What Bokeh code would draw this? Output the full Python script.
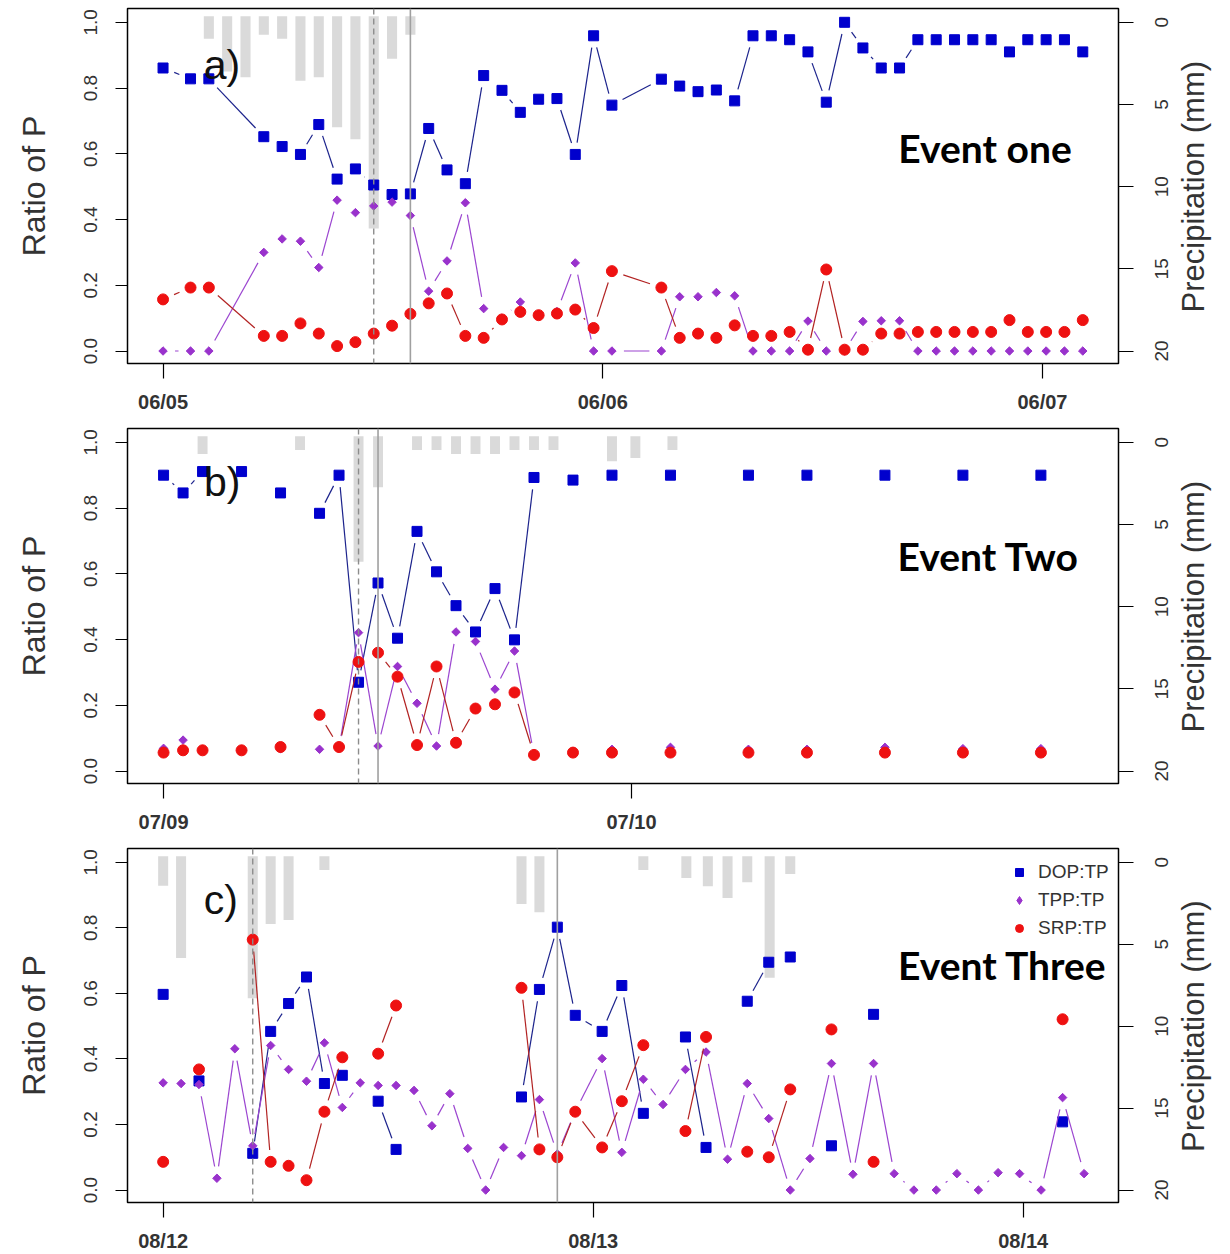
import math
import numpy as np
from bokeh.plotting import figure
from bokeh.models import (Range1d, LinearAxis, FixedTicker, Span, Label, Legend,
                          LegendItem, PrintfTickFormatter)
from bokeh.layouts import column, row
from bokeh.embed import file_html
from bokeh.resources import INLINE

nan = np.nan

# ---------------- Event one (06/05 - 06/07) ----------------
a_hours = [0, 1.5, 2.5, 5.5, 6.5, 7.5, 8.5, 9.5, 10.5, 11.5, 12.5, 13.5, 14.5, 15.5,
           16.5, 17.5, 18.5, 19.5, 20.5, 21.5, 22.5, 23.5, 24.5, 27.2, 28.2, 29.2,
           30.2, 31.2, 32.2, 33.2, 34.2, 35.2, 36.2, 37.2, 38.2, 39.2, 40.2, 41.2,
           42.2, 43.2, 44.2, 45.2, 46.2, 47.2, 48.2, 49.2, 50.2]
a_dop = [0.861, 0.828, 0.828, 0.652, 0.622, 0.598, 0.689, 0.523, 0.554, 0.505, 0.476,
         0.478, 0.677, 0.551, 0.509, 0.838, 0.793, 0.726, 0.766, 0.768, 0.598, 0.959,
         0.748, 0.827, 0.806, 0.789, 0.794, 0.761, 0.959, 0.959, 0.947, 0.910, 0.757,
         1.0, 0.922, 0.861, 0.861, 0.947, 0.947, 0.947, 0.947, 0.947, 0.910, 0.947,
         0.947, 0.947, 0.910]
a_tpp = [0, 0, 0, 0.300, 0.341, 0.334, 0.254, 0.459, 0.421, 0.441, 0.453, 0.412, 0.182,
         0.274, 0.451, 0.129, 0.100, 0.149, 0.110, 0.120, 0.268, 0, 0, 0, 0.165, 0.165,
         0.178, 0.168, 0, 0, 0, 0.091, 0, 0, 0.090, 0.092, 0.092, 0, 0, 0, 0, 0, 0, 0,
         0, 0, 0]
a_srp = [0.157, 0.193, 0.193, 0.046, 0.046, 0.084, 0.053, 0.015, 0.027, 0.053, 0.077,
         0.113, 0.145, 0.175, 0.046, 0.040, 0.096, 0.119, 0.109, 0.114, 0.126, 0.070,
         0.243, 0.193, 0.040, 0.053, 0.040, 0.078, 0.046, 0.046, 0.058, 0.004, 0.248,
         0.004, 0.004, 0.053, 0.053, 0.058, 0.058, 0.058, 0.058, 0.058, 0.094, 0.058,
         0.058, 0.058, 0.094]
a_rain_hours = [2.5, 3.5, 4.5, 5.5, 6.5, 7.5, 8.5, 9.5, 10.5, 11.5, 12.5, 13.5]
a_rain = [1.0, 3.0, 3.34, 0.75, 1.0, 3.56, 3.34, 6.39, 7.12, 12.54, 2.22, 0.75]
a_day_ticks = [0, 24, 48]
a_day_labels = ["06/05", "06/06", "06/07"]
a_lines = [11.5, 13.5]          # dashed, solid

# ---------------- Event two (07/09 - 07/10) ----------------
b_hours = [0, 1, 2, 3, 4, 5, 6, 7, 8, 9, 10, 11, 12, 13, 14, 15, 16, 17, 18, 19, 20,
           21, 22, 23, 24.5, 26, 28, 30, 31.5, 33, 35, 37, 39, 41, 43, 45]
b_dop = [0.900, 0.846, 0.911, nan, 0.911, nan, 0.846, nan, 0.784, 0.900, 0.270, 0.572,
         0.404, 0.729, 0.606, 0.503, 0.423, 0.555, 0.399, 0.893, nan, 0.885, nan, 0.900,
         nan, 0.900, nan, 0.900, nan, 0.900, nan, 0.900, nan, 0.900, nan, 0.900]
b_tpp = [0.069, 0.094, 0.065, nan, 0.065, nan, 0.068, nan, 0.066, 0.070, 0.421, 0.076,
         0.318, 0.206, 0.076, 0.423, 0.394, 0.249, 0.365, 0.050, nan, 0.060, nan, 0.066,
         nan, 0.072, nan, 0.066, nan, 0.066, nan, 0.072, nan, 0.068, nan, 0.068]
b_srp = [0.056, 0.063, 0.063, nan, 0.063, nan, 0.073, nan, 0.171, 0.073, 0.332, 0.360,
         0.287, 0.079, 0.318, 0.086, 0.190, 0.203, 0.239, 0.049, nan, 0.056, nan, 0.056,
         nan, 0.056, nan, 0.056, nan, 0.056, nan, 0.056, nan, 0.056, nan, 0.056]
b_rain_hours = [2, 7, 10, 11, 13, 14, 15, 16, 17, 18, 19, 20, 23, 24.2, 26.1]
b_rain = [0.71, 0.47, 7.27, 2.74, 0.47, 0.47, 0.71, 0.71, 0.71, 0.47, 0.47, 0.47, 1.16,
          0.96, 0.47]
b_day_ticks = [0, 24]
b_day_labels = ["07/09", "07/10"]
b_lines = [10, 11]

# ---------------- Event three (08/12 - 08/14) ----------------
c_hours = [0, 1, 2, 3, 4, 5, 6, 7, 8, 9, 10, 11, 12, 13, 14, 15, 16, 17, 18, 19, 20,
           21, 22, 23, 24.5, 25.6, 26.8, 27.9, 29.15, 30.3, 31.5, 32.6, 33.8, 35.0,
           36.1, 37.3, 38.5, 39.65, 40.8, 41.9, 43.15, 44.3, 45.5, 46.6, 47.8, 49.0,
           50.2, 51.4]
c_dop = [0.597, nan, 0.333, nan, nan, 0.112, 0.484, 0.569, 0.650, 0.325, 0.350, nan,
         0.271, 0.124, nan, nan, nan, nan, nan, nan, 0.284, 0.612, 0.802, 0.533,
         0.484, 0.624, 0.234, nan, 0.467, 0.130, nan, 0.576, 0.695, 0.711, nan, 0.135,
         nan, 0.536, nan, nan, nan, nan, nan, nan, nan, nan, 0.208, nan]
c_tpp = [0.327, 0.325, 0.322, 0.036, 0.431, 0.135, 0.441, 0.368, 0.332, 0.449, 0.252,
         0.327, 0.319, 0.319, 0.304, 0.196, 0.294, 0.127, 0.0, 0.130, 0.105, 0.276,
         0.110, 0.240, 0.401, 0.115, 0.338, 0.261, 0.368, 0.421, 0.094, 0.325, 0.218,
         0.0, 0.096, 0.386, 0.048, 0.386, 0.050, 0.0, 0.0, 0.050, 0.0, 0.053, 0.050,
         0.0, 0.282, 0.050]
c_srp = [0.086, nan, 0.368, nan, nan, 0.764, 0.086, 0.074, 0.030, 0.239, 0.405, nan,
         0.416, 0.563, nan, nan, nan, nan, nan, nan, 0.617, 0.124, 0.100, 0.239,
         0.130, 0.271, 0.442, nan, 0.180, 0.467, nan, 0.117, 0.100, 0.307, nan, 0.490,
         nan, 0.086, nan, nan, nan, nan, nan, nan, nan, nan, 0.521, nan]
c_rain_hours = [0, 1, 5, 6, 7, 9, 20, 21, 26.8, 29.2, 30.4, 31.5, 32.6, 33.85, 35.0]
c_rain = [1.43, 5.84, 8.29, 3.76, 3.52, 0.47, 2.54, 3.05, 0.47, 0.96, 1.46, 2.18, 1.22,
          7.05, 0.71]
c_day_ticks = [0, 24, 48]
c_day_labels = ["08/12", "08/13", "08/14"]
c_lines = [5, 22]

ratio_ticks = [0, 0.2, 0.4, 0.6, 0.8, 1.0]
precip_ticks = [0, 5, 10, 15, 20]
series_names = ["DOP:TP", "TPP:TP", "SRP:TP"]

# ---------------- styles ----------------
BLUE_M, BLUE_L = "#0000CD", "#1C238C"
PURP_M, PURP_L = "#9932CC", "#9B45D0"
RED_M, RED_L = "#EE1111", "#B22222"
BAR = "#DADADA"
BAR_BASE = -0.37
AX_FONT = "Liberation Sans"
TXT = "#333333"
TEXT_LIFT = 0.043
RATIO_RANGE = (-0.038, 1.042)
PRECIP_RANGE = (20.76, -0.84)
FRAME_W, FRAME_H = 991, 355
GAP_PX = 12          # R type="b": line stops short of each point


def style_axis(ax):
    ax.axis_line_color = "black"
    ax.major_tick_line_color = "black"
    ax.major_tick_line_width = 1.2
    ax.major_tick_in = 0
    ax.minor_tick_in = 0
    ax.minor_tick_out = 0
    ax.major_label_text_font = AX_FONT
    ax.major_label_text_color = TXT
    ax.axis_label_text_font = AX_FONT
    ax.axis_label_text_font_style = "normal"
    ax.axis_label_text_color = TXT


def gapped(hours, vals, xr):
    """Segments between consecutive samples, shortened at both ends (type='b')."""
    kx = FRAME_W / (xr[1] - xr[0])
    ky = FRAME_H / (RATIO_RANGE[1] - RATIO_RANGE[0])
    x0, y0, x1, y1 = [], [], [], []
    for i in range(len(hours) - 1):
        xa, ya, xb, yb = hours[i], vals[i], hours[i + 1], vals[i + 1]
        if np.isnan(ya) or np.isnan(yb):
            continue
        length = math.hypot((xb - xa) * kx, (yb - ya) * ky)
        if length <= 2 * GAP_PX:
            continue
        f = GAP_PX / length
        x0.append(xa + (xb - xa) * f)
        y0.append(ya + (yb - ya) * f)
        x1.append(xb - (xb - xa) * f)
        y1.append(yb - (yb - ya) * f)
    return dict(x0=x0, y0=y0, x1=x1, y1=y1)


def panel(hours, dop, tpp, srp, rain_h, rain, bar_w, xr, day_ticks, day_labels,
          vlines, tag, tag_xy, event, ev_xy, height, bottom, legend=False):
    p = figure(width=1140, height=height, x_range=Range1d(*xr),
               y_range=Range1d(*RATIO_RANGE), output_backend="svg",
               toolbar_location=None, min_border_left=127, min_border_right=22,
               min_border_top=8, min_border_bottom=bottom)
    p.extra_y_ranges = {"precip": Range1d(*PRECIP_RANGE)}
    p.xgrid.visible = False
    p.ygrid.visible = False
    p.outline_line_color = "black"
    p.outline_line_width = 1.5
    p.outline_line_alpha = 1.0
    p.background_fill_color = "white"
    p.border_fill_color = "white"

    # left axis
    ya = p.yaxis[0]
    ya.ticker = FixedTicker(ticks=ratio_ticks)
    ya.formatter = PrintfTickFormatter(format="%.1f")
    ya.major_label_orientation = "vertical"
    ya.axis_label = "Ratio of P"
    # right axis: tick marks only (its labels are drawn by the side strip)
    ra = LinearAxis(y_range_name="precip", ticker=FixedTicker(ticks=precip_ticks))
    p.add_layout(ra, "right")
    # bottom axis
    xa = p.xaxis[0]
    xa.ticker = FixedTicker(ticks=day_ticks)
    xa.major_label_overrides = {t: l for t, l in zip(day_ticks, day_labels)}

    for ax in (ya, ra, xa):
        style_axis(ax)
    ya.major_tick_out = 12
    ya.major_label_text_font_size = "19px"
    ya.major_label_standoff = 18
    ya.axis_label_text_font_size = "32px"
    ya.axis_label_standoff = 30
    ra.major_tick_out = 15
    ra.major_label_standoff = 0
    ra.major_label_text_font_size = "1px"
    ra.major_label_text_alpha = 0.0
    xa.major_tick_out = 15
    xa.major_label_text_font_size = "20px"
    xa.major_label_text_font_style = "bold"
    xa.major_label_standoff = 12

    # precipitation bars hanging from the top
    p.vbar(x=rain_h, width=bar_w, top=BAR_BASE, bottom=rain, y_range_name="precip",
           fill_color=BAR, line_color=None)

    p.add_layout(Span(location=vlines[0], dimension="height", line_color="#8C8C8C",
                      line_dash="6 4", line_width=1.4))
    p.add_layout(Span(location=vlines[1], dimension="height", line_color="#A0A0A0",
                      line_width=1.6))

    p.segment(line_color=BLUE_L, line_width=1.2, **gapped(hours, dop, xr))
    r_dop = p.scatter(hours, dop, marker="square", size=10, fill_color=BLUE_M,
                      line_color=BLUE_M)
    p.segment(line_color=PURP_L, line_width=1.2, **gapped(hours, tpp, xr))
    p.scatter(hours, tpp, marker="square", angle=math.pi / 4, size=6,
              fill_color=PURP_M, line_color=PURP_M)
    p.segment(line_color=RED_L, line_width=1.2, **gapped(hours, srp, xr))
    r_srp = p.scatter(hours, srp, marker="circle", size=11, fill_color=RED_M,
                      line_color=RED_M)

    p.add_layout(Label(x=tag_xy[0], y=tag_xy[1] + TEXT_LIFT, text=tag,
                       text_font=AX_FONT, text_font_size="41px",
                       text_color="#111111", text_baseline="alphabetic"))
    p.add_layout(Label(x=ev_xy[0], y=ev_xy[1] + TEXT_LIFT, text=event,
                       text_font="Lato", text_font_style="bold",
                       text_font_size="39px", text_color="black",
                       text_align="right", text_baseline="alphabetic"))

    if legend:
        r_tpp_leg = p.scatter(x=[nan], y=[nan], marker="diamond", size=11,
                              fill_color=PURP_M, line_color=PURP_M)
        items = [LegendItem(label=series_names[0], renderers=[r_dop]),
                 LegendItem(label=series_names[1], renderers=[r_tpp_leg]),
                 LegendItem(label=series_names[2], renderers=[r_srp])]
        lg = Legend(items=items, location=(882, 263), border_line_color=None,
                    background_fill_alpha=0.0, label_text_font=AX_FONT,
                    label_text_font_size="19px", label_text_color=TXT,
                    glyph_width=20, glyph_height=20, label_height=20, spacing=6,
                    padding=6, margin=0, label_standoff=9)
        p.add_layout(lg)

    # side strip carrying the precipitation tick labels and title (read upward)
    q = figure(width=90, height=height, x_range=Range1d(0, 55),
               y_range=Range1d(*PRECIP_RANGE), output_backend="svg",
               toolbar_location=None, min_border_left=30, min_border_right=5,
               min_border_top=8, min_border_bottom=bottom, x_axis_location=None)
    q.outline_line_color = None
    q.xgrid.visible = False
    q.ygrid.visible = False
    q.background_fill_color = "white"
    q.border_fill_color = "white"
    qa = q.yaxis[0]
    style_axis(qa)
    qa.ticker = FixedTicker(ticks=precip_ticks)
    qa.major_label_orientation = "vertical"
    qa.axis_line_color = None
    qa.major_tick_line_color = None
    qa.major_tick_out = 0
    qa.major_label_standoff = 2
    qa.major_label_text_font_size = "19px"
    q.add_layout(Label(x=23, y=10, text="Precipitation (mm)", angle=math.pi / 2,
                       text_align="center", text_baseline="middle",
                       text_font=AX_FONT, text_font_size="31px", text_color=TXT))
    return row(p, q, spacing=0)


pa = panel(a_hours, a_dop, a_tpp, a_srp, a_rain_hours, a_rain, 0.55, (-1.94, 52.15),
           a_day_ticks, a_day_labels, a_lines, "a)", (2.22, 0.826), "Event one",
           (49.6, 0.576), 420, 57)
pb = panel(b_hours, b_dop, b_tpp, b_srp, b_rain_hours, b_rain, 0.51, (-1.85, 48.98),
           b_day_ticks, b_day_labels, b_lines, "b)", (2.07, 0.837), "Event Two",
           (46.96, 0.612), 420, 57)
pc = panel(c_hours, c_dop, c_tpp, c_srp, c_rain_hours, c_rain, 0.56, (-1.99, 53.32),
           c_day_ticks, c_day_labels, c_lines, "c)", (2.27, 0.843), "Event Three",
           (52.67, 0.645), 414, 51, legend=True)

layout = column(pa, pb, pc, spacing=0)
open("out.html", "w").write(file_html(layout, INLINE))
